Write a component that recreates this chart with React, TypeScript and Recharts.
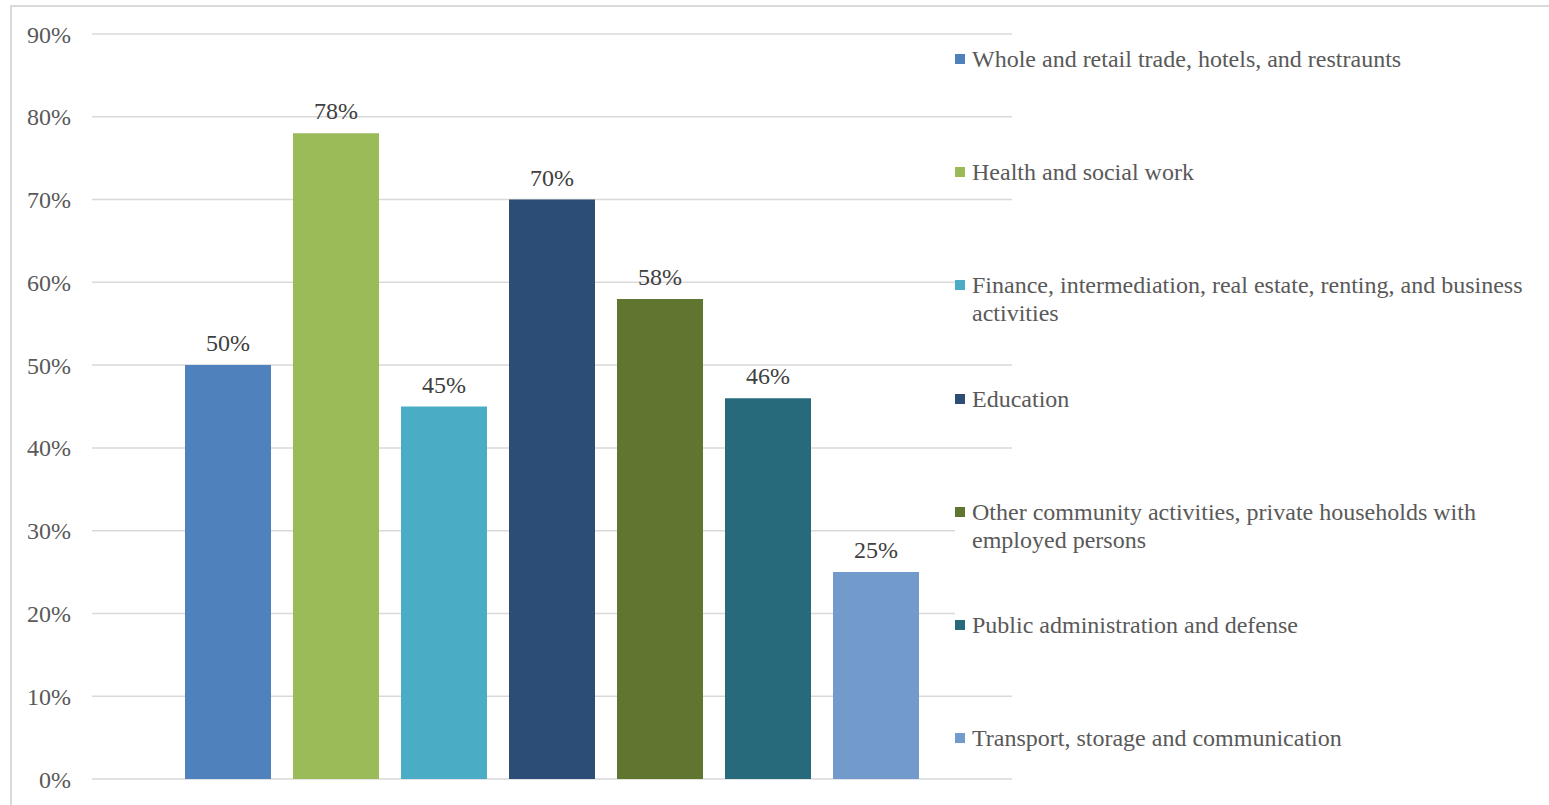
import { BarChart, Bar, XAxis, YAxis, CartesianGrid, Legend, LabelList } from 'recharts';

const sectors = [
  'Whole and retail trade, hotels, and restraunts',
  'Health and social work',
  'Finance, intermediation, real estate, renting, and business activities',
  'Education',
  'Other community activities, private households with employed persons',
  'Public administration and defense',
  'Transport, storage and communication',
];
const shares = [50, 78, 45, 70, 58, 46, 25];
const colors = ['#4f81bd', '#9bbb59', '#4bacc6', '#2c4d75', '#5f7530', '#276a7c', '#729aca'];
const yTicks = [0, 10, 20, 30, 40, 50, 60, 70, 80, 90];

const font = "'Liberation Serif', 'Times New Roman', serif";

const row: Record<string, number | string> = { name: 'all' };
sectors.forEach((s, i) => {
  row['s' + i] = shares[i];
});
const data = [row];

const LegendBox = () => (
  <div style={{ fontFamily: font, fontSize: 24, lineHeight: '28px', color: '#595959' }}>
    {sectors.map((s, i) => (
      <div key={s} style={{ height: 113.2 }}>
        <div style={{ display: 'flex', alignItems: 'flex-start', background: '#fff', width: 580 }}>
          <span
            style={{
              width: 10,
              height: 10,
              background: colors[i],
              marginTop: 9,
              marginRight: 7,
              flex: 'none',
            }}
          />
          <span style={{ width: 560, flex: 'none' }}>{s}</span>
        </div>
      </div>
    ))}
  </div>
);

export default function App() {
  return (
    <div style={{ position: 'fixed', left: 0, top: 0, width: 1549, height: 805, background: '#fff', overflow: 'hidden' }}>
      <div
        style={{
          position: 'absolute',
          left: 10,
          top: 5,
          width: 1560,
          height: 820,
          border: '2px solid #d9d9d9',
        }}
      />
      <BarChart
        width={1549}
        height={805}
        data={data}
        margin={{ top: 34, right: 0, bottom: 26, left: 0 }}
        barSize={86}
        barGap={22}
        style={{ position: 'absolute', left: 0, top: 0 }}
      >
        <CartesianGrid vertical={false} stroke="#d9d9d9" strokeWidth={1.5} />
        <XAxis dataKey="name" hide />
        <YAxis
          width={92}
          domain={[0, 90]}
          ticks={yTicks}
          axisLine={false}
          tickLine={false}
          tickMargin={15}
          tickFormatter={(v: number) => `${v}%`}
          tick={{ fill: '#595959', fontSize: 24, fontFamily: font }}
        />
        <Legend
          layout="vertical"
          align="right"
          verticalAlign="top"
          content={LegendBox}
          wrapperStyle={{ left: 955, top: 45, width: 537, overflow: 'visible' }}
        />
        {sectors.map((s, i) => (
          <Bar key={s} dataKey={'s' + i} name={s} fill={colors[i]} isAnimationActive={false}>
            <LabelList
              dataKey={'s' + i}
              position="top"
              offset={14}
              formatter={(v: any) => `${v}%`}
              style={{ fill: '#404040', fontSize: 24, fontFamily: font }}
            />
          </Bar>
        ))}
      </BarChart>
    </div>
  );
}
